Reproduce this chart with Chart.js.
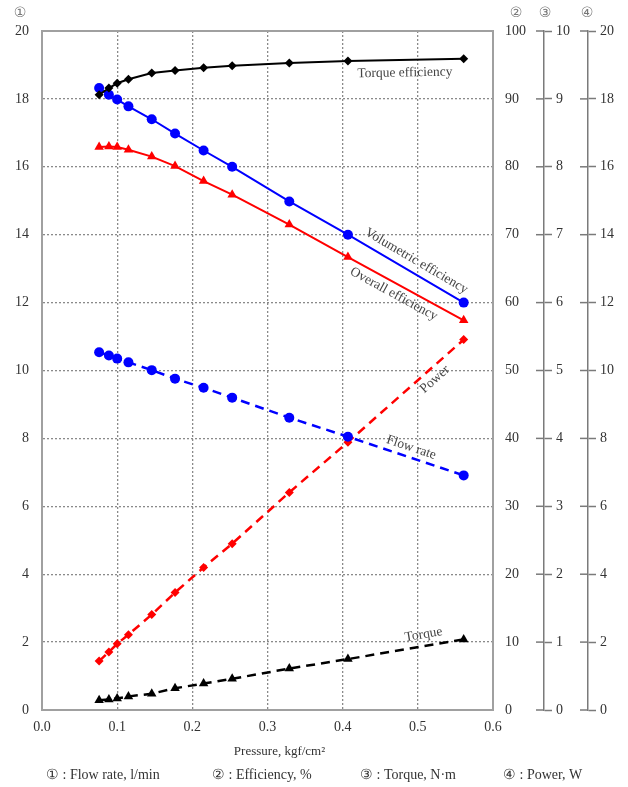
<!DOCTYPE html>
<html>
<head>
<meta charset="utf-8">
<script src="https://cdn.jsdelivr.net/npm/chart.js@4.4.1/dist/chart.umd.min.js"></script>
<style>
  html, body { margin: 0; padding: 0; background: #fff; }
  #wrap { width: 628px; height: 787px; position: relative; }
</style>
</head>
<body>
<div id="wrap"><canvas id="pumpChart"></canvas></div>
<script>
// pressure in kgf/cm2
var pressure = [0.076, 0.089, 0.100, 0.115, 0.146, 0.177, 0.215, 0.253, 0.329, 0.407, 0.561];
// efficiencies in %
var torqueEff = [90.6, 91.6, 92.3, 92.9, 93.8, 94.2, 94.6, 94.9, 95.3, 95.6, 95.9];
var volumetricEff = [91.6, 90.6, 89.9, 88.9, 87.0, 84.9, 82.4, 80.0, 74.9, 70.0, 60.0];
var overallEff = [82.9, 83.0, 82.9, 82.5, 81.5, 80.1, 77.9, 75.9, 71.5, 66.7, 57.4];
// flow rate l/min, power W, torque N.m
var flowRate = [10.54, 10.44, 10.35, 10.24, 10.01, 9.76, 9.49, 9.20, 8.61, 8.05, 6.91];
var power = [1.44, 1.71, 1.95, 2.22, 2.81, 3.46, 4.20, 4.90, 6.41, 7.89, 10.91];
var torque = [0.144, 0.155, 0.17, 0.20, 0.24, 0.32, 0.39, 0.46, 0.61, 0.75, 1.04];

var axisMarks = ["\u2460", "\u2461", "\u2462", "\u2463"];
var xTitle = "Pressure, kgf/cm\u00b2";
var legendItems = ["\u2460 : Flow rate, l/min", "\u2461 : Efficiency, %", "\u2462 : Torque, N\u00b7m", "\u2463 : Power, W"];

var serif = "'Liberation Serif', 'DejaVu Serif', serif";
var gridGray = "#8a8a8a";
var frameGray = "#a0a0a0";
var axisGray = "#7a7a7a";
var textGray = "#333";

function pts(ys) {
    return pressure.map(function (p, i) { return {x: p, y: ys[i]}; });
}

// labels along the curves: dataset, segment, position on segment, offset normal to it
var curveLabels = [
    {text: "Torque efficiency", ds: 0, seg: 9, t: 0.49, off: 13},
    {text: "Volumetric efficiency", ds: 1, seg: 9, t: 0.54, off: -12},
    {text: "Overall efficiency", ds: 2, seg: 9, t: 0.44, off: 10.5},
    {text: "Flow rate", ds: 3, seg: 9, t: 0.52, off: -9.7},
    {text: "Power", ds: 4, seg: 9, t: 0.69, off: 10.7},
    {text: "Torque", ds: 5, seg: 9, t: 0.67, off: -11.4}
];

function fixWidth(w) { return function (scale) { scale.width = w; }; }

var extras = {
    id: "extras",
    afterDraw: function (chart) {
        var ctx = chart.ctx;
        var area = chart.chartArea;
        var s = chart.scales;
        ctx.save();

        // top edge of the plot frame
        ctx.strokeStyle = frameGray;
        ctx.lineWidth = 2;
        ctx.beginPath();
        ctx.moveTo(area.left, area.top);
        ctx.lineTo(area.right, area.top);
        ctx.stroke();

        // ticks on the outer axes cross their line
        ctx.strokeStyle = axisGray;
        ctx.lineWidth = 1.5;
        ["y3", "y4"].forEach(function (id) {
            var sc = s[id];
            sc.ticks.forEach(function (tk) {
                var py = sc.getPixelForValue(tk.value);
                ctx.beginPath();
                ctx.moveTo(sc.left - 8, py);
                ctx.lineTo(sc.left, py);
                ctx.stroke();
            });
        });

        // circled axis numbers
        ctx.fillStyle = "#777";
        ctx.font = "14px 'DejaVu Sans', sans-serif";
        ctx.textAlign = "center";
        ctx.textBaseline = "middle";
        ctx.fillText(axisMarks[0], area.left - 22, 13);
        ctx.fillText(axisMarks[1], s.y2.left + 23, 13);
        ctx.fillText(axisMarks[2], s.y3.left + 1, 13);
        ctx.fillText(axisMarks[3], s.y4.left - 1, 13);

        // curve names
        ctx.fillStyle = "#444";
        ctx.font = "13.5px " + serif;
        curveLabels.forEach(function (lb) {
            var d = chart.getDatasetMeta(lb.ds).data;
            var p0 = d[lb.seg], p1 = d[lb.seg + 1];
            var ang = Math.atan2(p1.y - p0.y, p1.x - p0.x);
            var cx = p0.x + (p1.x - p0.x) * lb.t - Math.sin(ang) * lb.off;
            var cy = p0.y + (p1.y - p0.y) * lb.t + Math.cos(ang) * lb.off;
            ctx.save();
            ctx.translate(cx, cy);
            ctx.rotate(ang);
            ctx.fillText(lb.text, 0, 0);
            ctx.restore();
        });

        // axis title and unit key
        ctx.fillStyle = textGray;
        ctx.font = "13px " + serif;
        ctx.fillText(xTitle, (area.left + area.right) / 2 + 12, 752);
        ctx.font = "14px " + serif;
        ctx.textAlign = "left";
        var lx = [46, 212, 360, 503];
        legendItems.forEach(function (txt, i) {
            ctx.fillText(txt, lx[i], 775);
        });
        ctx.restore();
    }
};

var gridOpts = {color: gridGray, lineWidth: 1.3, drawTicks: false};
var tickFont = {family: serif, size: 14};

new Chart(document.getElementById("pumpChart"), {
    type: "scatter",
    data: {
        datasets: [{
            label: "Torque efficiency", data: pts(torqueEff), yAxisID: "y2",
            borderColor: "#000", backgroundColor: "#000", borderWidth: 2,
            pointStyle: "rectRot", pointRadius: 4.5
        }, {
            label: "Volumetric efficiency", data: pts(volumetricEff), yAxisID: "y2",
            borderColor: "#0000ff", backgroundColor: "#0000ff", borderWidth: 2,
            pointStyle: "circle", pointRadius: 5
        }, {
            label: "Overall efficiency", data: pts(overallEff), yAxisID: "y2",
            borderColor: "#ff0000", backgroundColor: "#ff0000", borderWidth: 2,
            pointStyle: "triangle", pointRadius: 5.5
        }, {
            label: "Flow rate", data: pts(flowRate), yAxisID: "y",
            borderColor: "#0000ff", backgroundColor: "#0000ff", borderWidth: 2.5,
            borderDash: [9, 6], pointStyle: "circle", pointRadius: 5
        }, {
            label: "Power", data: pts(power), yAxisID: "y4",
            borderColor: "#ff0000", backgroundColor: "#ff0000", borderWidth: 2.5,
            borderDash: [9, 6], pointStyle: "rectRot", pointRadius: 4.5
        }, {
            label: "Torque", data: pts(torque), yAxisID: "y3",
            borderColor: "#000", backgroundColor: "#000", borderWidth: 2.5,
            borderDash: [9, 6], pointStyle: "triangle", pointRadius: 5.5
        }].map(function (ds) {
            ds.showLine = true;
            ds.borderCapStyle = "butt";
            ds.pointBorderWidth = 0;
            return ds;
        })
    },
    options: {
        responsive: true,
        maintainAspectRatio: false,
        animation: false,
        devicePixelRatio: 1,
        layout: {padding: {top: 31, right: 0, bottom: 22, left: 0}},
        plugins: {legend: {display: false}, tooltip: {enabled: false}},
        scales: {
            x: {
                type: "linear", min: 0, max: 0.6,
                ticks: {stepSize: 0.1, font: tickFont, color: textGray, padding: 9,
                    callback: function (v) { return v.toFixed(1); }},
                grid: gridOpts,
                border: {display: true, color: frameGray, width: 2, dash: [2, 2]},
                afterFit: function (scale) { scale.height = 55; }
            },
            y: {
                position: "left", min: 0, max: 20,
                ticks: {stepSize: 2, font: tickFont, color: textGray, padding: 13},
                grid: gridOpts,
                border: {display: true, color: frameGray, width: 2, dash: [2, 2]},
                afterFit: fixWidth(42)
            },
            y2: {
                position: "right", min: 0, max: 100, weight: 0,
                ticks: {stepSize: 10, font: tickFont, color: textGray, padding: 12},
                grid: {drawOnChartArea: false, drawTicks: false},
                border: {display: true, color: frameGray, width: 2},
                afterFit: fixWidth(51)
            },
            y3: {
                position: "right", min: 0, max: 10, weight: 1,
                ticks: {stepSize: 1, font: tickFont, color: textGray, padding: 4},
                grid: {drawOnChartArea: false, drawTicks: true, tickLength: 8, tickColor: axisGray, tickWidth: 1.5},
                border: {display: true, color: axisGray, width: 1.5},
                afterFit: fixWidth(44)
            },
            y4: {
                position: "right", min: 0, max: 20, weight: 2,
                ticks: {stepSize: 2, font: tickFont, color: textGray, padding: 4},
                grid: {drawOnChartArea: false, drawTicks: true, tickLength: 8, tickColor: axisGray, tickWidth: 1.5},
                border: {display: true, color: axisGray, width: 1.5},
                afterFit: fixWidth(40)
            }
        }
    },
    plugins: [extras]
});
</script>
</body>
</html>
